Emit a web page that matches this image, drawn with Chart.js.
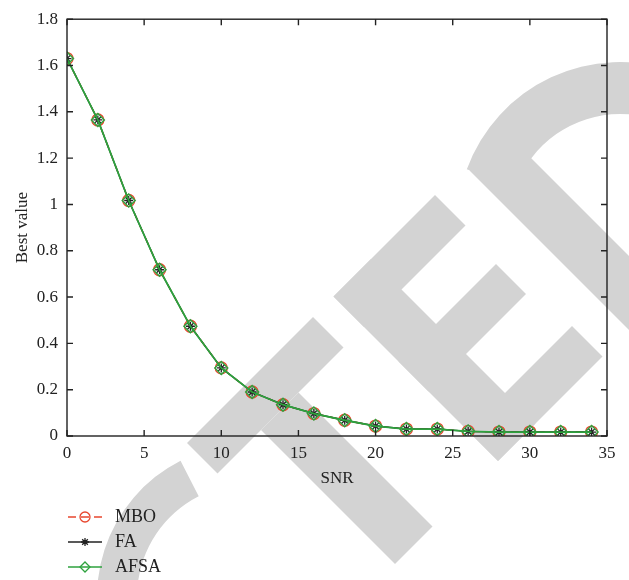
<!DOCTYPE html>
<html>
<head>
    <title>Best value vs SNR</title>
    <script src="https://cdn.jsdelivr.net/npm/chart.js"></script>
    <style>
        html, body { margin: 0; padding: 0; background: #fff; }
        #wrap { width: 629px; height: 580px; }
    </style>
</head>
<body>
    <div id="wrap"><canvas id="myChart" width="629" height="580"></canvas></div>
    <script>
        // Values
        const snr = [0, 2, 4, 6, 8, 10, 12, 14, 16, 18, 20, 22, 24, 26, 28, 30, 32, 34];
        const mbo = [1.63, 1.365, 1.017, 0.718, 0.474, 0.294, 0.19, 0.135, 0.097, 0.068, 0.043, 0.03, 0.03, 0.02, 0.017, 0.017, 0.017, 0.017];
        const fa = [1.63, 1.365, 1.017, 0.718, 0.474, 0.294, 0.19, 0.135, 0.097, 0.068, 0.043, 0.03, 0.03, 0.02, 0.017, 0.017, 0.017, 0.017];
        const afsa = [1.63, 1.365, 1.017, 0.718, 0.474, 0.294, 0.19, 0.135, 0.097, 0.068, 0.043, 0.03, 0.03, 0.02, 0.017, 0.017, 0.017, 0.017];
        const seriesNames = ['MBO', 'FA', 'AFSA'];

        const RED = '#e8472f';
        const BLACK = '#222222';
        const GREEN = '#2ea23e';
        const FONT = "'Liberation Serif', 'DejaVu Serif', serif";

        const toPoints = ys => ys.map((y, i) => ({x: snr[i], y: y}));
        const rad = d => d * Math.PI / 180;

        // grey "RETRACTED" stamp behind the plot
        const watermark = {
            id: 'watermark',
            beforeDraw(chart) {
                const ctx = chart.ctx;
                ctx.save();
                ctx.fillStyle = '#d3d3d3';
                // the C
                ctx.beginPath();
                ctx.arc(250, 597, 153, rad(243), rad(95), true);
                ctx.arc(250, 597, 113, rad(95), rad(243), false);
                ctx.closePath();
                ctx.fill();
                // bowl of the D
                ctx.beginPath();
                ctx.arc(620, 225, 163, rad(200), rad(360), false);
                ctx.arc(620, 225, 111, rad(360), rad(200), true);
                ctx.closePath();
                ctx.fill();
                // rotated frame: u = x + y, v = y - x
                ctx.transform(0.5, 0.5, -0.5, 0.5, 0, 0);
                const bars = [
                    [630, 4, 691, 256],      // T bar
                    [691, 94, 959, 169],     // T stem
                    [630, -112, 959, -37],   // E spine
                    [630, -240, 691, -37],   // E top
                    [760, -232, 820, -37],   // E middle
                    [898, -246, 959, -37],   // E bottom
                    [640, -373, 959, -299]   // D spine
                ];
                bars.forEach(b => ctx.fillRect(b[0], b[1], b[2] - b[0], b[3] - b[1]));
                ctx.restore();
            }
        };

        // box round the plot with inward ticks, and the legend under it
        const frame = {
            id: 'frame',
            afterDraw(chart) {
                const ctx = chart.ctx;
                const a = chart.chartArea;
                const xs = chart.scales.x;
                const ys = chart.scales.y;
                ctx.save();
                ctx.strokeStyle = BLACK;
                ctx.lineWidth = 1.4;
                ctx.strokeRect(a.left, a.top, a.right - a.left, a.bottom - a.top);
                ctx.beginPath();
                xs.ticks.forEach(t => {
                    const px = xs.getPixelForValue(t.value);
                    ctx.moveTo(px, a.bottom); ctx.lineTo(px, a.bottom - 6);
                    ctx.moveTo(px, a.top); ctx.lineTo(px, a.top + 6);
                });
                ys.ticks.forEach(t => {
                    const py = ys.getPixelForValue(t.value);
                    ctx.moveTo(a.left, py); ctx.lineTo(a.left + 6, py);
                    ctx.moveTo(a.right, py); ctx.lineTo(a.right - 6, py);
                });
                ctx.stroke();

                // legend
                chart.data.datasets.forEach((ds, i) => {
                    const y = 517 + i * 25;
                    ctx.save();
                    ctx.strokeStyle = ds.borderColor;
                    ctx.lineWidth = 1.3;
                    ctx.setLineDash(ds.borderDash || []);
                    ctx.beginPath();
                    ctx.moveTo(68, y); ctx.lineTo(102, y);
                    ctx.stroke();
                    ctx.setLineDash([]);
                    ctx.strokeStyle = ds.pointBorderColor;
                    ctx.fillStyle = 'rgba(0,0,0,0)';
                    ctx.lineWidth = 1.3;
                    Chart.helpers.drawPoint(ctx, {
                        pointStyle: ds.pointStyle,
                        radius: ds.pointStyle === 'star' ? 4 : 5,
                        borderWidth: 1.3,
                        rotation: 0
                    }, 85, y);
                    ctx.restore();
                    ctx.font = '18px ' + FONT;
                    ctx.textBaseline = 'middle';
                    ctx.fillStyle = BLACK;
                    ctx.fillText(ds.label, 115, y);
                });
                ctx.restore();
            }
        };

        const ctx = document.getElementById('myChart').getContext('2d');
        new Chart(ctx, {
            type: 'line',
            data: {
                datasets: [
                    {
                        label: seriesNames[0], data: toPoints(mbo), order: 2,
                        borderColor: RED, borderWidth: 1.4, borderDash: [8, 5],
                        pointStyle: 'circle', pointRadius: 6,
                        pointBorderColor: RED, pointBackgroundColor: 'rgba(0,0,0,0)', pointBorderWidth: 1.3
                    },
                    {
                        label: seriesNames[1], data: toPoints(fa), order: 1,
                        borderColor: BLACK, borderWidth: 1.4,
                        pointStyle: 'star', pointRadius: 4.5,
                        pointBorderColor: BLACK, pointBackgroundColor: 'rgba(0,0,0,0)', pointBorderWidth: 1.3
                    },
                    {
                        label: seriesNames[2], data: toPoints(afsa), order: 0,
                        borderColor: GREEN, borderWidth: 1.8,
                        pointStyle: 'rectRot', pointRadius: 6.5,
                        pointBorderColor: GREEN, pointBackgroundColor: 'rgba(0,0,0,0)', pointBorderWidth: 1.4
                    }
                ]
            },
            options: {
                responsive: false,
                animation: false,
                layout: { padding: { left: 8, right: 22, top: 10, bottom: 87 } },
                plugins: { legend: { display: false }, tooltip: { enabled: false } },
                scales: {
                    x: {
                        type: 'linear', min: 0, max: 35,
                        ticks: { stepSize: 5, padding: 7, color: BLACK, font: { family: FONT, size: 17 } },
                        grid: { display: false, drawTicks: false },
                        border: { display: false },
                        title: { display: true, text: 'SNR', color: BLACK, font: { family: FONT, size: 17 } },
                        afterFit(scale) { scale.height = 57; }
                    },
                    y: {
                        min: 0, max: 1.8,
                        ticks: {
                            stepSize: 0.2, padding: 9, color: BLACK, font: { family: FONT, size: 17 },
                            callback: v => String(Math.round(v * 10) / 10)
                        },
                        grid: { display: false, drawTicks: false },
                        border: { display: false },
                        title: { display: true, text: 'Best value', color: BLACK, font: { family: FONT, size: 17 } },
                        afterFit(scale) { scale.width = 59; }
                    }
                }
            },
            plugins: [watermark, frame]
        });
    </script>
</body>
</html>
